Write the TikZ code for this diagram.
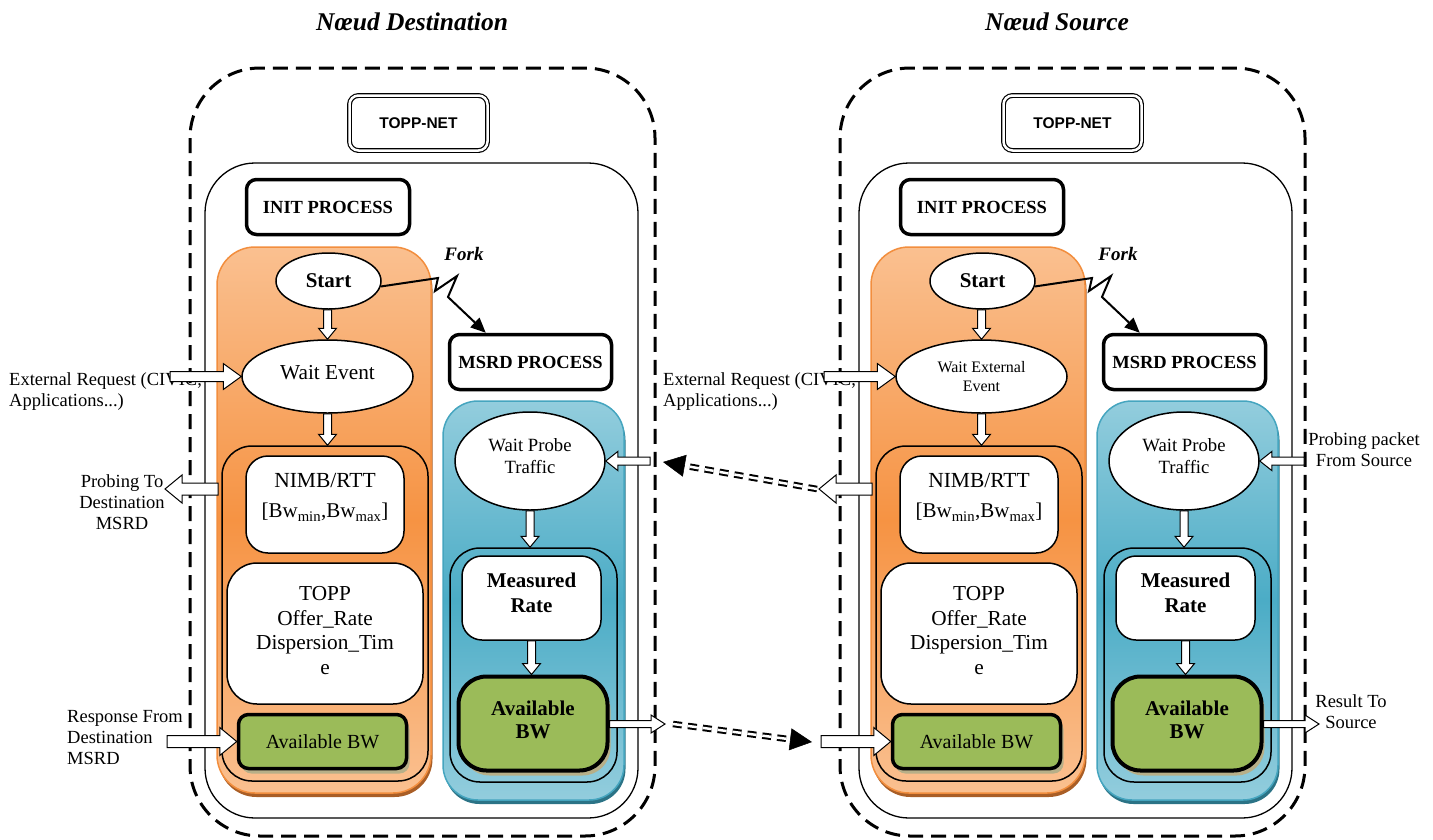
\documentclass[tikz,border=0pt]{standalone}
\usepackage{fontspec}
\setmainfont{Liberation Serif}
\newfontfamily\arialfont{Liberation Sans}
\usetikzlibrary{arrows.meta,calc,shapes.geometric,shadows}
\definecolor{orL}{HTML}{FAC090}
\definecolor{orD}{HTML}{F69343}
\definecolor{orB}{HTML}{F28E3E}
\definecolor{orS}{HTML}{A95E26}
\definecolor{blL}{HTML}{93CDDD}
\definecolor{blD}{HTML}{4BACC6}
\definecolor{blB}{HTML}{45A5BF}
\definecolor{blS}{HTML}{2B7386}
\definecolor{grn}{HTML}{9BBB59}
\definecolor{grnS}{HTML}{B7AF88}
\newcommand\myfs[2]{\fontsize{#1}{#2}\selectfont}
\tikzset{
 dashbox/.style={draw, line width=3pt, dash pattern=on 15pt off 8pt, rounded corners=70pt},
 solidbox/.style={draw, line width=1.3pt, rounded corners=50pt, inner sep=0pt},
 toppnet/.style={draw, double, double distance=2.5pt, line width=1.2pt, rounded corners=9pt, fill=white, inner sep=0pt, font=\arialfont\bfseries\myfs{15.5}{18}},
 procbox/.style={draw, line width=3.5pt, rounded corners=10pt, fill=white, inner sep=0pt, font=\bfseries\myfs{18.5}{22}},
 orpanel/.style={draw=orB, line width=1.5pt, rounded corners=38pt, top color=orL, bottom color=orL, middle color=orD, drop shadow={shadow xshift=1.5pt, shadow yshift=-4pt, fill=orS, opacity=1}},
 blpanel/.style={draw=blB, line width=1.5pt, rounded corners=35pt, top color=blL, bottom color=blL, middle color=blD, drop shadow={shadow xshift=1.5pt, shadow yshift=-4pt, fill=blS, opacity=1}},
 ell/.style={draw, ellipse, line width=1.5pt, fill=white, inner sep=0pt, align=center},
 darkbox/.style={draw, line width=1.5pt, rounded corners=30pt, inner sep=0pt},
 whitebox/.style={draw, line width=1.5pt, fill=white, inner sep=0pt},
 greenbox/.style={draw, fill=grn, inner sep=0pt, drop shadow={shadow xshift=3pt, shadow yshift=-5pt, fill=grnS, opacity=1}},
 maintext/.style={inner sep=0pt, align=center, font=\myfs{20}{24}},
 side/.style={inner sep=0pt, font=\myfs{18.5}{21}},
 title/.style={inner sep=0pt, font=\bfseries\itshape\myfs{25.5}{30}},
 blk/.style={draw, fill=white, line width=1pt, line join=miter},
 fork/.style={line width=2pt, line join=miter, -{Triangle[length=15pt,width=13pt]}},
 dbl/.style={double, double distance=2.5pt, line width=2pt, dash pattern=on 9pt off 6pt},
 dblhead/.style={line width=0.5pt, -{Triangle[length=22pt,width=22pt]}},
}
% horizontal block arrow: tail, tip, half shaft, half head, head length
\newcommand\blkH[5]{%
 \draw[blk] let \p1=#1, \p2=#2, \n1={sign(\x2-\x1)} in
  (\x1,\y2+#3) -- (\x2-#5*\n1,\y2+#3) -- (\x2-#5*\n1,\y2+#4) -- (\x2,\y2)
  -- (\x2-#5*\n1,\y2-#4) -- (\x2-#5*\n1,\y2-#3) -- (\x1,\y2-#3) -- cycle;}
% vertical block arrow
\newcommand\blkV[5]{%
 \draw[blk] let \p1=#1, \p2=#2, \n1={sign(\y2-\y1)} in
  (\x2+#3,\y1) -- (\x2+#3,\y2-#5*\n1) -- (\x2+#4,\y2-#5*\n1) -- (\x2,\y2)
  -- (\x2-#4,\y2-#5*\n1) -- (\x2-#3,\y2-#5*\n1) -- (\x2-#3,\y1) -- cycle;}
% one node panel: shift, prefix, wait text, wait font, wait text shift
\newcommand\drawpanel[5]{%
\begin{scope}[xshift=#1]
 \node[solidbox, minimum width=433pt, minimum height=655pt] (#2inner) at (421.5,490.5) {};
 \node[toppnet, minimum width=138pt, minimum height=55pt] (#2net) at (418.5,123) {TOPP-NET};
 \node[procbox, minimum width=163pt, minimum height=55pt] (#2init) at (328,207) {INIT PROCESS};
 \node[orpanel, minimum width=214pt, minimum height=546pt] (#2orange) at (324,520) {};
 \node[ell, minimum width=105pt, minimum height=56pt, font=\bfseries\myfs{21}{24}] (#2start) at (328.5,281) {Start};
 \node[ell, minimum width=171pt, minimum height=73pt] (#2wait) at (327.5,376.5) {};
 \node[maintext, font=#4] (#2waitT) at ([yshift=#5]#2wait.center) {#3};
 \node[darkbox, minimum width=206pt, minimum height=335pt] (#2dark) at (325,613.5) {};
 \node[whitebox, rounded corners=22pt, minimum width=158pt, minimum height=97pt] (#2nimb) at (325,504.5) {};
 \node[maintext, font=\myfs{21.5}{24}] (#2nimbA) at ([yshift=-25pt]#2nimb.north) {NIMB/RTT};
 \node[maintext, font=\myfs{21}{24}] (#2nimbB) at ([yshift=-57pt]#2nimb.north) {[Bw\textsubscript{min},Bw\textsubscript{max}]};
 \node[whitebox, rounded corners=30pt, minimum width=196pt, minimum height=141pt] (#2topp) at (325,633.5) {};
 \node[maintext, font=\myfs{21.3}{24.5}] (#2toppT) at ([yshift=3pt]#2topp.center) {TOPP\\Offer\_Rate\\Dispersion\_Tim\\e};
 \node[greenbox, line width=3.5pt, rounded corners=10pt, minimum width=168pt, minimum height=54pt, font=\myfs{20}{24}] (#2avbw) at (322.5,741.5) {Available BW};
 \node[font=\bfseries\itshape\myfs{19}{22}, inner sep=0pt] (#2forkL) at (464,254) {Fork};
 \node[procbox, minimum width=162pt, minimum height=55pt] (#2msrd) at (530.5,362) {MSRD PROCESS};
 \node[blpanel, minimum width=181pt, minimum height=399pt] (#2blue) at (533.5,600.5) {};
 \node[ell, minimum width=150pt, minimum height=98pt] (#2probe) at (530,461) {};
 \node[maintext, font=\myfs{18.7}{22}] (#2probeT) at ([yshift=5pt]#2probe.center) {Wait Probe\\Traffic};
 \node[darkbox, minimum width=167pt, minimum height=234pt] (#2binner) at (533.5,665) {};
 \node[whitebox, rounded corners=20pt, minimum width=139pt, minimum height=84pt] (#2meas) at (531.5,598) {};
 \node[maintext, font=\bfseries\myfs{21}{25}] (#2measT) at ([yshift=5.5pt]#2meas.center) {Measured\\Rate};
 \node[greenbox, line width=4pt, rounded corners=28pt, minimum width=149pt, minimum height=94pt] (#2avbw2) at (533,723.5) {};
 \node[maintext, font=\bfseries\myfs{21}{23}] (#2avbwT) at ([yshift=4pt]#2avbw2.center) {Available\\BW};
 \draw[fork] (#2start.-6) -- (438,278) -- (435,291) -- (457,276) -- (448,297) -- ([xshift=38pt]#2msrd.north west);
 \coordinate (#2extTail) at (170,380);
 \coordinate (#2probeTail) at (218,489);
 \coordinate (#2probeTip) at (165,489);
 \coordinate (#2respTail) at (167,741.5);
 \coordinate (#2pinTail) at (650,461);
 \coordinate (#2outTip) at (665,724);
\end{scope}
 \blkV{(#2start.south)}{(#2wait.north)}{4pt}{9pt}{11pt}
 \blkV{(#2wait.south)}{(#2wait.south |- #2dark.north)}{4pt}{9pt}{11pt}
 \blkV{(#2probe.south)}{(#2probe.south |- #2binner.north)}{4pt}{9pt}{11pt}
 \blkV{(#2meas.south)}{(#2meas.south |- #2avbw2.north)}{4pt}{9pt}{11pt}
 \blkH{(#2extTail)}{(#2wait.west)}{5pt}{13pt}{18pt}
 \blkH{(#2probeTail)}{(#2probeTip)}{6pt}{14pt}{17pt}
 \blkH{(#2respTail)}{(#2avbw.west)}{6pt}{14pt}{17pt}
 \blkH{(#2pinTail)}{(#2probe.east)}{4pt}{9.5pt}{12pt}
 \blkH{(#2avbw2.east)}{(#2outTip)}{3.5pt}{9pt}{14pt}
}
\begin{document}
\begin{tikzpicture}[x=1pt,y=-1pt]
\useasboundingbox (0,0) rectangle (1433,839);
\node[title] (titleD) at (412,22) {Nœud Destination};
\node[title] (titleS) at (1057,22) {Nœud Source};
\draw[dashbox] (190,68) rectangle (655,836);
\draw[dashbox] (840,68) rectangle (1305,836);
\node[side, align=left, anchor=west] (lblExtD) at (9,392) {External Request (CIVIC,\\Applications...)};
\node[side, align=left, anchor=west] (lblExtS) at (663,392) {External Request (CIVIC,\\Applications...)};
\node[side, align=center] (lblProbe) at (122,502) {Probing To\\Destination\\MSRD};
\node[side, align=left, anchor=west] (lblResp) at (67,738) {Response From\\Destination\\MSRD};
\node[side, align=center] (lblPin) at (1364,450) {Probing packet\\From Source};
\node[side, align=center] (lblRes) at (1351,712) {Result To\\Source};
\drawpanel{0pt}{D}{Wait Event}{\myfs{21.3}{24}}{4pt}
\drawpanel{654pt}{S}{Wait External\\Event}{\myfs{16}{19}}{0pt}
\coordinate (topHead) at (663,462);
\coordinate (botHead) at (812,742);
\draw[dbl] ([xshift=-2pt]SprobeTip) -- ($(topHead)!18pt!(SprobeTip)$);
\draw[dblhead] ($(topHead)!5pt!(SprobeTip)$) -- (topHead);
\draw[dbl] ([xshift=8pt]DoutTip) -- ($(botHead)!18pt!(DoutTip)$);
\draw[dblhead] ($(botHead)!5pt!(DoutTip)$) -- (botHead);
\end{tikzpicture}
\end{document}
